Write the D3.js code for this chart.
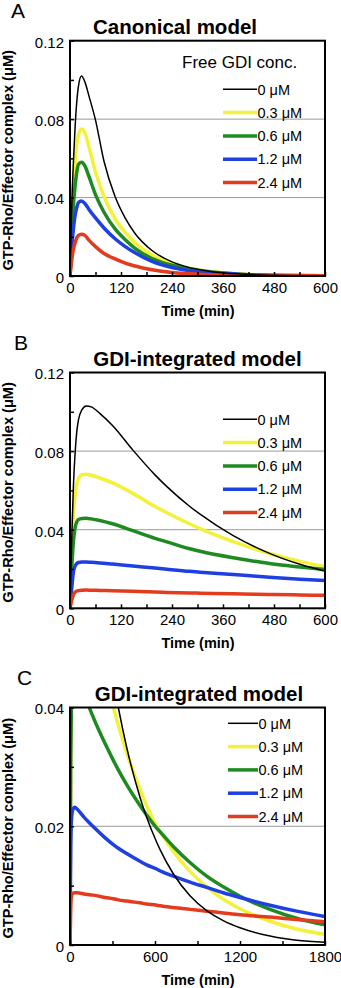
<!DOCTYPE html>
<html>
<head>
<meta charset="utf-8">
<script src="https://cdn.jsdelivr.net/npm/d3@7"></script>
<style>
  body { margin: 0; background: #fff; }
  svg { display: block; font-family: "Liberation Sans", Arial, Helvetica, sans-serif; }
</style>
</head>
<body>
<svg id="fig" width="341" height="988"></svg>
<script>
// legend labels (free GDI concentration) and line colours
const concLabels = ["0 μM", "0.3 μM", "0.6 μM", "1.2 μM", "2.4 μM"];
const lineColors = ["#000000", "#f3f13a", "#1f8a22", "#1e3fe2", "#e43b1e"];

// A: canonical model (min, μM)
const timeA = [0, 4, 8, 12, 16, 20, 27, 35, 45, 60, 80, 106, 130, 153, 193, 240, 271, 334, 400, 480, 600];
const a0  = [0, 0.035, 0.058, 0.076, 0.089, 0.097, 0.102, 0.099, 0.0915, 0.0795, 0.0585, 0.0405, 0.0295, 0.0217, 0.013, 0.0072, 0.0049, 0.0022, 0.001, 0.0004, 0.0001];
const a03 = [0, 0.026, 0.045, 0.058, 0.067, 0.072, 0.075, 0.073, 0.0655, 0.053, 0.0405, 0.0292, 0.0222, 0.0169, 0.0107, 0.0063, 0.0045, 0.0022, 0.001, 0.0004, 0.0001];
const a06 = [0, 0.02, 0.036, 0.046, 0.053, 0.057, 0.058, 0.0562, 0.0505, 0.0415, 0.0325, 0.024, 0.0185, 0.0141, 0.0089, 0.0055, 0.0041, 0.002, 0.0009, 0.0003, 0.0001];
const a12 = [0, 0.014, 0.024, 0.031, 0.035, 0.0375, 0.0383, 0.037, 0.0338, 0.0296, 0.0245, 0.019, 0.015, 0.0118, 0.0074, 0.0043, 0.0031, 0.0016, 0.0008, 0.0003, 0.0001];
const a24 = [0, 0.008, 0.0135, 0.017, 0.0195, 0.0207, 0.0213, 0.0207, 0.0182, 0.015, 0.0115, 0.0087, 0.0066, 0.0051, 0.0032, 0.0018, 0.0013, 0.0007, 0.0004, 0.0002, 0.0001];

// B: GDI-integrated model, 0-600 min
const timeB = [0, 4, 8, 12, 16, 20, 28, 38, 50, 70, 100, 148, 200, 228, 282, 306, 384, 439, 478, 541, 600];
const b0  = [0, 0.035, 0.062, 0.079, 0.090, 0.096, 0.101, 0.103, 0.1025, 0.0992, 0.093, 0.0805, 0.0679, 0.0619, 0.0518, 0.0479, 0.037, 0.0309, 0.0272, 0.0224, 0.0189];
const b03 = [0, 0.03, 0.048, 0.058, 0.063, 0.066, 0.068, 0.0682, 0.0677, 0.0663, 0.0638, 0.0585, 0.0518, 0.0486, 0.0429, 0.0406, 0.0339, 0.0299, 0.0274, 0.0239, 0.0211];
const b06 = [0, 0.02, 0.034, 0.041, 0.044, 0.0452, 0.0457, 0.0458, 0.0455, 0.0447, 0.043, 0.0395, 0.0356, 0.0338, 0.0303, 0.029, 0.0257, 0.0238, 0.0225, 0.021, 0.0197];
const b12 = [0, 0.01, 0.0185, 0.0215, 0.0228, 0.0233, 0.0236, 0.0236, 0.0234, 0.0231, 0.0225, 0.0215, 0.0205, 0.0199, 0.0188, 0.0184, 0.0172, 0.0163, 0.0157, 0.0148, 0.0141];
const b24 = [0, 0.004, 0.0068, 0.0082, 0.0088, 0.009, 0.0092, 0.0093, 0.0092, 0.0091, 0.0089, 0.0087, 0.0083, 0.0081, 0.0078, 0.0077, 0.0074, 0.0071, 0.0070, 0.0068, 0.0066];

// C: GDI-integrated model, 0-1800 min
const timeC = [0, 5, 10, 20, 35, 50, 100, 136, 165, 250, 306, 341, 400, 494, 541, 612, 635, 729, 847, 965, 1082, 1200, 1412, 1600, 1800];
const c0  = [0, 0.05, 0.075, 0.095, 0.102, 0.103, 0.092, 0.082, 0.075, 0.053, 0.0445, 0.040, 0.0333, 0.0249, 0.0215, 0.0173, 0.0161, 0.012, 0.0083, 0.0058, 0.0041, 0.0029, 0.0015, 0.0008, 0.00045];
const c03 = [0, 0.035, 0.052, 0.064, 0.068, 0.0675, 0.063, 0.059, 0.056, 0.046, 0.040, 0.037, 0.0324, 0.0262, 0.0235, 0.020, 0.0191, 0.0158, 0.0124, 0.0098, 0.0077, 0.0061, 0.004, 0.0027, 0.0018];
const c06 = [0, 0.03, 0.041, 0.045, 0.0458, 0.0455, 0.0425, 0.040, 0.0383, 0.0338, 0.0311, 0.0295, 0.027, 0.0235, 0.0219, 0.0197, 0.0191, 0.0166, 0.0139, 0.0116, 0.0098, 0.0082, 0.006, 0.0045, 0.0034];
const c12 = [0, 0.016, 0.021, 0.0228, 0.0232, 0.0229, 0.0215, 0.0206, 0.0199, 0.018, 0.0169, 0.0163, 0.0154, 0.0141, 0.0135, 0.0128, 0.0125, 0.0116, 0.0106, 0.0097, 0.0088, 0.008, 0.0067, 0.0057, 0.0048];
const c24 = [0, 0.006, 0.0082, 0.0087, 0.0088, 0.0088, 0.0086, 0.00845, 0.0084, 0.008, 0.0078, 0.0076, 0.0074, 0.0071, 0.0069, 0.0067, 0.0066, 0.0063, 0.006, 0.0057, 0.0054, 0.0051, 0.0047, 0.0043, 0.0039];

const panels = [
  { letter: "A", title: "Canonical model", titleX: 175, top: 40.7, bottom: 276, xMax: 600, xStep: 120, xMinor: 60,
    yMax: 0.12, yStep: 0.04, yMinor: 0.02, time: timeA, series: [a0, a03, a06, a12, a24],
    legendY: 89.3, legendX0: 223, legendX1: 257, legendTitle: "Free GDI conc." },
  { letter: "B", title: "GDI-integrated model", titleX: 197.5, top: 372.5, bottom: 608.3, xMax: 600, xStep: 120, xMinor: 60,
    yMax: 0.12, yStep: 0.04, yMinor: 0.02, time: timeB, series: [b0, b03, b06, b12, b24],
    legendY: 419.3, legendX0: 223, legendX1: 257 },
  { letter: "C", title: "GDI-integrated model", titleX: 199, top: 707.5, bottom: 945, xMax: 1800, xStep: 600, xMinor: 300,
    yMax: 0.04, yStep: 0.02, yMinor: 0.01, time: timeC, series: [c0, c03, c06, c12, c24],
    legendY: 723.3, legendX0: 228, legendX1: 258 }
];

const svg = d3.select("#fig");
const plotLeft = 70, plotRight = 325;
const rowGap = 23.3;

panels.forEach((p, pi) => {
  const x = d3.scaleLinear().domain([0, p.xMax]).range([plotLeft, plotRight]);
  const y = d3.scaleLinear().domain([0, p.yMax]).range([p.bottom, p.top]);
  const g = svg.append("g");

  // gridlines at labelled y values
  const yMajor = d3.range(0, p.yMax + 1e-9, p.yStep);
  g.selectAll(".grid").data(yMajor.filter(v => v > 1e-9 && v < p.yMax - 1e-9)).join("line")
    .attr("x1", plotLeft).attr("x2", plotRight)
    .attr("y1", d => y(d)).attr("y2", d => y(d))
    .attr("stroke", "#9a9a9a").attr("stroke-width", 1);

  // legend
  const leg = g.append("g");
  if (p.legendTitle) {
    leg.append("text").attr("x", 182).attr("y", 68).attr("font-size", 17).text(p.legendTitle);
  }
  concLabels.forEach((lab, i) => {
    const ly = p.legendY + i * rowGap;
    leg.append("line").attr("x1", p.legendX0).attr("x2", p.legendX1).attr("y1", ly).attr("y2", ly)
      .attr("stroke", lineColors[i]).attr("stroke-width", i === 0 ? 1.5 : 3.5);
    leg.append("text").attr("x", p.legendX1 + 0.5).attr("y", ly + 5.2).attr("font-size", 14.5).text(lab);
  });

  // curves, clipped to the frame
  const clipId = "clip" + pi;
  svg.append("clipPath").attr("id", clipId).append("rect")
    .attr("x", plotLeft).attr("y", p.top).attr("width", plotRight - plotLeft).attr("height", p.bottom - p.top);
  const line = d3.line().x(d => x(d[0])).y(d => y(d[1])).curve(d3.curveMonotoneX);
  const order = [1, 2, 3, 4, 0];
  g.append("g").attr("clip-path", `url(#${clipId})`)
    .selectAll("path").data(order).join("path")
    .attr("d", i => line(p.time.map((t, k) => [t, p.series[i][k]])))
    .attr("fill", "none")
    .attr("stroke", i => lineColors[i])
    .attr("stroke-width", i => i === 0 ? 1.5 : 3.5)
    .attr("stroke-linejoin", "round");

  // inward minor ticks
  const xTicks = d3.range(0, p.xMax + 1e-9, p.xMinor);
  const yTicks = d3.range(0, p.yMax + 1e-9, p.yMinor);
  g.append("g").attr("transform", `translate(0,${p.bottom})`)
    .call(d3.axisBottom(x).tickValues(xTicks).tickSize(-4).tickFormat(""))
    .call(a => a.select(".domain").remove())
    .call(a => a.selectAll("line").attr("stroke", "#000").attr("stroke-width", 1.5));
  g.append("g").attr("transform", `translate(${plotLeft},0)`)
    .call(d3.axisLeft(y).tickValues(yTicks).tickSize(-4).tickFormat(""))
    .call(a => a.select(".domain").remove())
    .call(a => a.selectAll("line").attr("stroke", "#000").attr("stroke-width", 1.5));

  // frame
  g.append("rect").attr("x", plotLeft).attr("y", p.top)
    .attr("width", plotRight - plotLeft).attr("height", p.bottom - p.top)
    .attr("fill", "none").attr("stroke", "#000").attr("stroke-width", 2);

  // tick labels
  g.append("g").attr("transform", `translate(0,${p.bottom})`)
    .call(d3.axisBottom(x).tickValues(d3.range(0, p.xMax + 1e-9, p.xStep)).tickSize(0).tickPadding(5).tickFormat(d3.format("d")))
    .call(a => a.select(".domain").remove())
    .call(a => a.selectAll("text").attr("font-size", 15).attr("font-family", null).attr("fill", "#000").attr("dy", "0.78em"));
  g.append("g").attr("transform", `translate(${plotLeft},0)`)
    .call(d3.axisLeft(y).tickValues(yMajor).tickSize(0).tickPadding(6).tickFormat(d => d === 0 ? "0" : d3.format(".2f")(d)))
    .call(a => a.select(".domain").remove())
    .call(a => a.selectAll("text").attr("font-size", 15).attr("font-family", null).attr("fill", "#000").attr("dy", "0.42em"));

  // titles
  g.append("text").attr("x", p.titleX).attr("y", p.top - 7).attr("text-anchor", "middle")
    .attr("font-size", 20.5).attr("font-weight", "bold").text(p.title);
  g.append("text").attr("x", (plotLeft + plotRight) / 2 + 0.5).attr("y", p.bottom + 40).attr("text-anchor", "middle")
    .attr("font-size", 14.5).attr("font-weight", "bold").text("Time (min)");
  g.append("text").attr("transform", `translate(12.5,${(p.top + p.bottom) / 2 + 2}) rotate(-90)`)
    .attr("text-anchor", "middle").attr("font-size", 14.6).attr("font-weight", "bold")
    .text("GTP-Rho/Effector complex (μM)");
  g.append("text").attr("x", 11 + pi * 3).attr("y", p.top - 22.5).attr("font-size", 21).text(p.letter);
});
</script>
</body>
</html>
